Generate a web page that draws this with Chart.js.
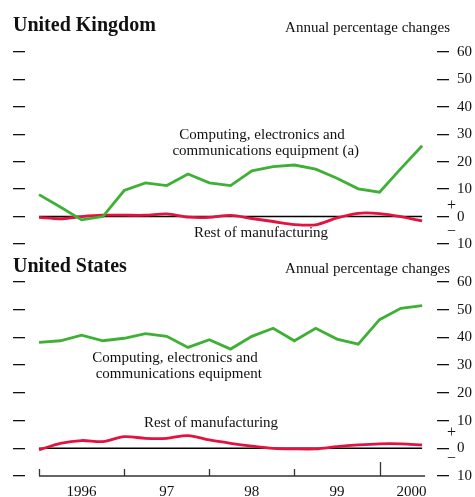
<!DOCTYPE html>
<html>
<head>
<meta charset="utf-8">
<script src="https://cdn.jsdelivr.net/npm/chart.js@4"></script>
<style>
  html,body{margin:0;padding:0;background:#fff;overflow:hidden;}
  body{width:475px;height:497px;position:relative;font-family:"Liberation Serif","Times New Roman",serif;color:#111;}
  canvas{position:absolute;left:0;}
  .t{position:absolute;white-space:nowrap;}
  .ttl{font-weight:bold;font-size:20px;left:13px;}
  .unit{font-size:15px;right:25px;}
  .note{font-size:15px;text-align:center;line-height:16px;transform:translateX(-50%);}
  .sign{font-size:16px;left:447px;}
</style>
</head>
<body>
<div id="uk" style="position:absolute;top:0;left:0;width:483px;height:261px;"><canvas id="ukchart"></canvas></div>
<div id="us" style="position:absolute;top:255px;left:0;width:483px;height:255px;"><canvas id="uschart"></canvas></div>

<div class="t ttl" style="top:13px;">United Kingdom</div>
<div class="t unit" style="top:19px;">Annual percentage changes</div>
<div class="t note" style="left:262px;top:126px;">Computing, electronics and<br>&nbsp;&nbsp;communications equipment (a)</div>
<div class="t note" style="left:261px;top:224px;">Rest of manufacturing</div>
<div class="t sign" style="top:196px;">+</div>
<div class="t sign" style="top:222px;">&minus;</div>

<div class="t ttl" style="top:254px;">United States</div>
<div class="t unit" style="top:260px;">Annual percentage changes</div>
<div class="t note" style="left:175px;top:349px;">Computing, electronics and<br>&nbsp;&nbsp;communications equipment</div>
<div class="t note" style="left:211px;top:414px;">Rest of manufacturing</div>
<div class="t sign" style="top:423px;">+</div>
<div class="t sign" style="top:449px;">&minus;</div>

<script>
// quarterly, 1996 Q1 .. 2000 Q3
var quarters=['1996 Q1','Q2','Q3','Q4','1997 Q1','Q2','Q3','Q4','1998 Q1','Q2','Q3','Q4','1999 Q1','Q2','Q3','Q4','2000 Q1','Q2','Q3'];
var yearLabels=['1996','97','98','99','2000'];

var ukComputing=[8,3.5,-1.2,0,9.5,12.3,11.3,15.5,12.3,11.3,16.7,18.2,18.8,17.3,14,10.1,8.9,17.5,25.8];
var ukRest=[-0.3,-0.8,0,0.5,0.5,0.5,1.0,-0.2,-0.3,0.4,-0.7,-1.8,-2.9,-3.0,-0.5,1.2,1.1,0,-1.6];

var usComputing=[38.2,38.8,40.8,38.8,39.7,41.4,40.4,36.4,39.2,35.8,40.4,43.3,38.8,43.3,39.4,37.6,46.4,50.5,51.5];
var usRest=[-0.6,1.8,2.8,2.4,4.2,3.6,3.6,4.6,3.0,1.8,0.8,0,-0.2,-0.2,0.6,1.2,1.6,1.6,1.2];

var green='#3fb036', red='#e3123f';
var serif='"Liberation Serif","Times New Roman",serif';
var last=quarters.length-1;

function pts(arr){ return arr.map(function(v,i){ return {x:i,y:v}; }); }

// zero line and (optionally) the bottom time axis with year-boundary ticks
var extras={
  id:'extras',
  beforeDatasetsDraw:function(chart,args,opts){
    var c=chart.ctx, x=chart.scales.x, y=chart.scales.y;
    c.save();
    c.strokeStyle='#000';
    c.lineWidth=1.5;
    c.beginPath();
    c.moveTo(x.getPixelForValue(0),y.getPixelForValue(0));
    c.lineTo(x.getPixelForValue(last),y.getPixelForValue(0));
    c.stroke();
    if(opts.timeAxis){
      var yb=y.getPixelForValue(-10);
      c.lineWidth=1.3;
      c.strokeStyle='#333';
      c.beginPath();
      c.moveTo(x.getPixelForValue(0),yb);
      c.lineTo(x.getPixelForValue(last)+3,yb);
      for(var q=0;q<=last;q+=4){
        var px=Math.round(x.getPixelForValue(q))+0.5;
        c.moveTo(px,yb);
        c.lineTo(px,yb-(q===16?14:7));
      }
      c.stroke();
    }
    c.restore();
  }
};

function makeChart(id,comp,rest,showTime,padTop,padBottom){
  var cfg={
    type:'line',
    data:{datasets:[
      {data:pts(comp),borderColor:green,borderWidth:2.8,pointRadius:0,tension:0,fill:false},
      {data:pts(rest),borderColor:red,borderWidth:2.8,pointRadius:0,tension:0.3,fill:false}
    ]},
    options:{
      responsive:true,
      maintainAspectRatio:false,
      animation:false,
      events:[],
      layout:{padding:{left:13,right:3,top:padTop,bottom:padBottom}},
      plugins:{legend:{display:false},tooltip:{enabled:false},extras:{timeAxis:showTime}},
      scales:{
        x:{
          type:'linear',
          min:-0.66,max:last+0.7,
          display:showTime,
          border:{display:false},
          grid:{display:false,drawTicks:false},
          afterBuildTicks:function(s){
            s.ticks=yearLabels.map(function(l,i){
              var v=Math.min(i*4+2,(i*4+last+1)/2);
              return {value:v,label:l};
            });
          },
          ticks:{
            padding:7,
            color:'#111',
            font:{family:serif,size:15},
            maxRotation:0,
            autoSkip:false,
            callback:function(v,i){ return yearLabels[i]; }
          }
        },
        y:{
          position:'right',
          min:-10,max:60,
          border:{display:false},
          grid:{drawOnChartArea:false,drawTicks:true,tickLength:12,color:'#111',lineWidth:1.3},
          ticks:{stepSize:10,padding:8,color:'#111',font:{family:serif,size:15},
            callback:function(v){ return Math.abs(v); }}
        },
        yl:{
          position:'left',
          min:-10,max:60,
          border:{display:false},
          grid:{drawOnChartArea:false,drawTicks:true,tickLength:12,color:'#111',lineWidth:1.3},
          ticks:{stepSize:10,display:false}
        }
      }
    },
    plugins:[extras]
  };
  return new Chart(document.getElementById(id).getContext('2d'),cfg);
}

var ukChart=makeChart('ukchart',ukComputing,ukRest,false,52,6);
var usChart=makeChart('uschart',usComputing,usRest,true,27,2);
</script>
</body>
</html>
